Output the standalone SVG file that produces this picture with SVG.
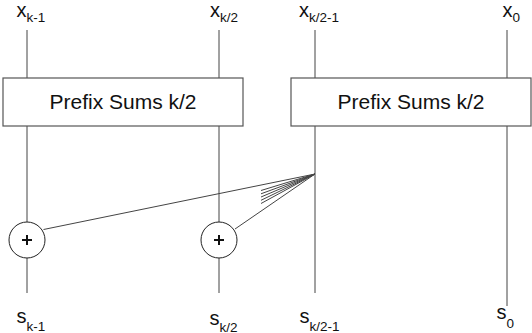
<svg xmlns="http://www.w3.org/2000/svg" width="532" height="333" viewBox="0 0 532 333">
<style>
.w{stroke:#444;stroke-width:1;fill:none}
.b{fill:#fff;stroke:#555;stroke-width:1.2}
.t{font-family:"Liberation Sans",Arial,sans-serif;fill:#111}
.m{font-size:20px}
.s{font-size:13.5px}
.bt{font-size:21px;text-anchor:middle}
.c{fill:#fff;stroke:#222;stroke-width:1}
.p{stroke:#111;stroke-width:2;fill:none}
</style>
<g id="connectors">
<path class="w" d="M27 30V78M27 126V222M27 258V293"/>
<path class="w" d="M219 30V78M219 126V222M219 258V293"/>
<path class="w" d="M315 30V78M315 126V293"/>
<path class="w" d="M507 30V78M507 126V306"/>
<path class="w" stroke="#111" d="M315 174L43.5 229.5M315 174L235 229M315 174L261 190.5M315 174L261 193.8M315 174L261 197M315 174L261 200.3M315 174L261 203.5"/>
</g>
<g id="prefix1">
<rect class="b" x="3" y="78" width="240" height="48"/>
<text class="t bt" x="123" y="109">Prefix Sums k/2</text>
</g>
<g id="prefix2">
<rect class="b" x="291" y="78" width="240" height="48"/>
<text class="t bt" x="411" y="109">Prefix Sums k/2</text>
</g>
<g id="add1">
<circle class="c" cx="27" cy="240" r="18"/>
<path class="p" d="M22 240h10M27 235v10"/>
</g>
<g id="add2">
<circle class="c" cx="219" cy="240" r="18"/>
<path class="p" d="M214 240h10M219 235v10"/>
</g>
<g id="inputs">
<text class="t" x="16.5" y="17"><tspan class="m">x</tspan><tspan class="s" dy="5">k-1</tspan></text>
<text class="t" x="210" y="17"><tspan class="m">x</tspan><tspan class="s" dy="5">k/2</tspan></text>
<text class="t" x="299" y="17"><tspan class="m">x</tspan><tspan class="s" dy="5">k/2-1</tspan></text>
<text class="t" x="502.5" y="17"><tspan class="m">x</tspan><tspan class="s" dy="5">0</tspan></text>
</g>
<g id="outputs">
<text class="t" x="16.5" y="323"><tspan class="m">s</tspan><tspan class="s" dy="8">k-1</tspan></text>
<text class="t" x="209.5" y="324.5"><tspan class="m">s</tspan><tspan class="s" dy="7">k/2</tspan></text>
<text class="t" x="299.5" y="323"><tspan class="m">s</tspan><tspan class="s" dy="8">k/2-1</tspan></text>
<text class="t" x="496.5" y="319"><tspan class="m">s</tspan><tspan class="s" dy="9">0</tspan></text>
</g>
</svg>
